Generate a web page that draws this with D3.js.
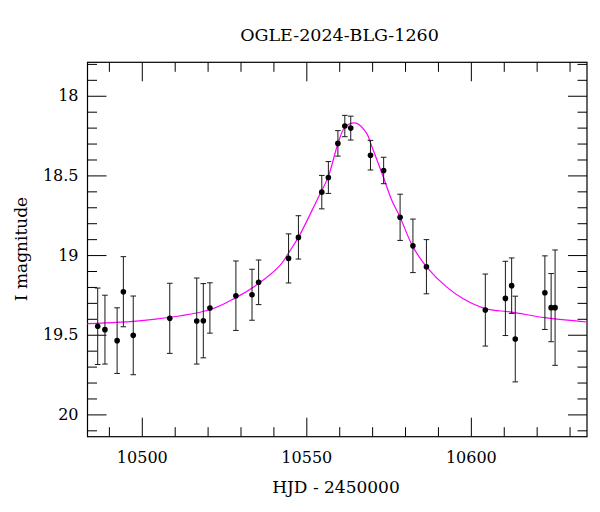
<!DOCTYPE html>
<html>
<head>
<meta charset="utf-8">
<script src="https://cdn.jsdelivr.net/npm/d3@7"></script>
<style>
  html, body { margin: 0; padding: 0; background: #fff; }
  svg { display: block; }
  text { font-family: "DejaVu Serif", serif; fill: #000; }
</style>
</head>
<body>
<svg id="chart" width="600" height="512"></svg>
<script>
// Observations: HJD - 2450000, I magnitude, error
const obsT   = [10486.6, 10488.8, 10492.5, 10494.4, 10497.4, 10508.5, 10516.7, 10518.7, 10520.7, 10528.6, 10533.5, 10535.5,
                10544.6, 10547.6, 10554.7, 10556.7, 10559.6, 10561.7, 10563.5, 10569.5, 10573.5, 10578.5, 10582.4, 10586.5,
                10604.4, 10610.5, 10612.4, 10613.5, 10622.5, 10624.4, 10625.6];
const obsMag = [19.447, 19.468, 19.537, 19.230, 19.504, 19.397, 19.414, 19.412, 19.332, 19.255, 19.249, 19.171,
                19.021, 18.889, 18.605, 18.513, 18.299, 18.190, 18.203, 18.373, 18.469, 18.763, 18.942, 19.073,
                19.345, 19.272, 19.192, 19.527, 19.236, 19.330, 19.330];
const obsErr = [0.240, 0.216, 0.206, 0.220, 0.247, 0.220, 0.270, 0.233, 0.158, 0.218, 0.160, 0.140,
                0.154, 0.136, 0.105, 0.100, 0.080, 0.067, 0.075, 0.093, 0.083, 0.145, 0.168, 0.170,
                0.226, 0.233, 0.174, 0.269, 0.231, 0.214, 0.362];

// Model curve
const modelT   = [10483.5, 10500.7, 10520.7, 10528.6, 10535.5, 10542.0, 10545.1, 10547.6, 10553.2, 10556.7, 10559.6, 10561.8,
                  10565.1, 10568.4, 10569.6, 10573.4, 10576.0, 10578.5, 10582.3, 10586.6, 10592.7, 10597.7, 10604.4, 10612.4,
                  10622.5, 10635.3];
const modelMag = [19.430, 19.410, 19.343, 19.267, 19.179, 19.065, 18.970, 18.889, 18.657, 18.506, 18.301, 18.197,
                  18.172, 18.238, 18.301, 18.510, 18.657, 18.762, 18.944, 19.075, 19.201, 19.274, 19.336, 19.358,
                  19.393, 19.420];

const xMajor = [10500, 10550, 10600];
const xMinor = [10490, 10510, 10520, 10530, 10540, 10560, 10570, 10580, 10590, 10610, 10620, 10630];
const yMajor = [18, 18.5, 19, 19.5, 20];
const yMinor = [17.8, 17.9, 18.1, 18.2, 18.3, 18.4, 18.6, 18.7, 18.8, 18.9, 19.1, 19.2, 19.3, 19.4,
                19.6, 19.7, 19.8, 19.9, 20.1];

const titleText = "OGLE-2024-BLG-1260";
const xLabel = "HJD - 2450000";
const yLabel = "I magnitude";

const svg = d3.select("#chart");
const L = 87.5, R = 587, T = 62.3, B = 436.7;

const x = d3.scaleLinear().domain([10483.5, 10635.3]).range([L, R]);
const y = d3.scaleLinear().domain([17.79, 20.14]).range([T, B]);

const majorLen = 19, minorLen = 9.5;

// Axes with inward ticks on all four sides
function addAxis(axisGen, transform) {
  const g = svg.append("g").attr("transform", transform).call(axisGen);
  g.select(".domain").remove();
  g.selectAll("line").attr("stroke", "#000").attr("stroke-width", 1);
  return g;
}

// bottom
const bMaj = addAxis(d3.axisBottom(x).tickValues(xMajor).tickSize(-majorLen).tickPadding(14.5)
  .tickFormat(d3.format("d")), `translate(0,${B})`);
bMaj.selectAll("text").attr("font-size", 16).attr("font-family", "DejaVu Serif");
addAxis(d3.axisBottom(x).tickValues(xMinor).tickSize(-minorLen).tickFormat(""), `translate(0,${B})`);
// top
addAxis(d3.axisTop(x).tickValues(xMajor).tickSize(-majorLen).tickFormat(""), `translate(0,${T})`);
addAxis(d3.axisTop(x).tickValues(xMinor).tickSize(-minorLen).tickFormat(""), `translate(0,${T})`);
// left
const lMaj = addAxis(d3.axisLeft(y).tickValues(yMajor).tickSize(-majorLen).tickPadding(9)
  .tickFormat(d => d3.format("")(d)), `translate(${L},0)`);
lMaj.selectAll("text").attr("font-size", 16).attr("font-family", "DejaVu Serif");
addAxis(d3.axisLeft(y).tickValues(yMinor).tickSize(-minorLen).tickFormat(""), `translate(${L},0)`);
// right
addAxis(d3.axisRight(y).tickValues(yMajor).tickSize(-majorLen).tickFormat(""), `translate(${R},0)`);
addAxis(d3.axisRight(y).tickValues(yMinor).tickSize(-minorLen).tickFormat(""), `translate(${R},0)`);

// frame
svg.append("rect").attr("x", L).attr("y", T).attr("width", R - L).attr("height", B - T)
  .attr("fill", "none").attr("stroke", "#000").attr("stroke-width", 1.2);

// model curve
const plot = svg.append("g");
const modelData = modelT.map((t, i) => ({ t, m: modelMag[i] }));
plot.append("path")
  .datum(modelData)
  .attr("fill", "none")
  .attr("stroke", "#ff00ff")
  .attr("stroke-width", 1.2)
  .attr("d", d3.line().x(d => x(d.t)).y(d => y(d.m)).curve(d3.curveCatmullRom.alpha(0.5)));

// observations
const obs = obsT.map((t, i) => ({ t, m: obsMag[i], e: obsErr[i] }));
const cap = 2.8;
const eb = plot.append("g").attr("stroke", "#1a1a1a").attr("stroke-width", 1);
obs.forEach(d => {
  const cx = x(d.t), y1 = y(d.m - d.e), y2 = y(d.m + d.e);
  eb.append("line").attr("x1", cx).attr("x2", cx).attr("y1", y1).attr("y2", y2);
  eb.append("line").attr("x1", cx - cap).attr("x2", cx + cap).attr("y1", y1).attr("y2", y1);
  eb.append("line").attr("x1", cx - cap).attr("x2", cx + cap).attr("y1", y2).attr("y2", y2);
});
plot.append("g").selectAll("circle").data(obs).join("circle")
  .attr("cx", d => x(d.t)).attr("cy", d => y(d.m)).attr("r", 2.8).attr("fill", "#000");

// labels
svg.append("text").attr("x", 339.5).attr("y", 41).attr("text-anchor", "middle")
  .attr("font-size", 17.5).text(titleText);
svg.append("text").attr("x", 336).attr("y", 493.3).attr("text-anchor", "middle")
  .attr("font-size", 17).text(xLabel);
svg.append("text").attr("transform", "translate(26.5,249) rotate(-90)").attr("text-anchor", "middle")
  .attr("font-size", 17).text(yLabel);
</script>
</body>
</html>
